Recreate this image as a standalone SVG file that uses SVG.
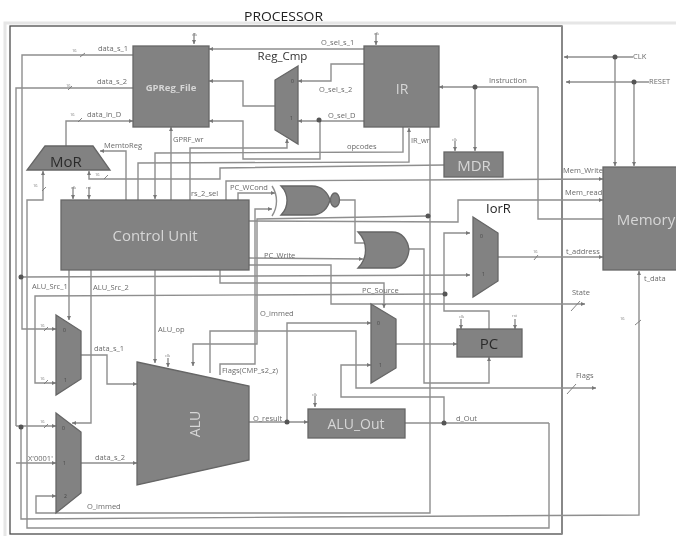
<svg xmlns="http://www.w3.org/2000/svg" width="676" height="536" viewBox="0 0 676 536">
<style>
text{font-family:"Open Sans","Liberation Sans",sans-serif}
.w{fill:none;stroke:#8e8e8e;stroke-width:1.4}
.a{marker-end:url(#ah)}
.t{fill:none;stroke:#777;stroke-width:.9}
.n{fill:#828282;stroke:#666;stroke-width:1.3}
.l{font-size:7.500px;fill:#6a6a6a}
.m{font-size:5px;fill:#444}
.s{font-size:4px;fill:#777}
.big{fill:#d6d6d6;text-anchor:middle}
.dk{fill:#2c2c2c;text-anchor:middle}
.d{fill:#555}
</style>
<defs>
<marker id="ah" markerWidth="5" markerHeight="5" refX="4" refY="2.500" orient="auto" markerUnits="userSpaceOnUse"><path d="M0,.5L4,2.500L0,4.500z" fill="#777"/></marker>
<filter id="b" x="0" y="0" width="676" height="536" filterUnits="userSpaceOnUse"><feGaussianBlur stdDeviation="0.55"/></filter>
</defs>
<rect width="676" height="536" fill="#fff"/>
<g filter="url(#b)">
<g id="frame">
<path d="M5,536V23H676" fill="none" stroke="#e6e6e6" stroke-width="3"/>
<rect x="10" y="26" width="552" height="508" fill="none" stroke="#4c4c4c" stroke-width="1.3"/>
<path d="M562,26V534" stroke="#888" stroke-width="2" fill="none"/>
<text x="244" y="21" font-size="13" fill="#222" textLength="79" lengthAdjust="spacingAndGlyphs">PROCESSOR</text>
</g>
<g id="connectors">
<path class="w a" d="M133,55H22V329H56"/>
<path class="w a" d="M21,277L470,275"/>
<path class="w" d="M133,88H16V426"/>
<path class="w a" d="M16,426H56"/>
<path class="w a" d="M21,427V519L304,517L639,515V271"/>
<path class="w a" d="M66,146V121H133"/>
<path class="w a" d="M549,423V528H27V200H43V171"/>
<path class="w a" d="M444,165L220,168V179H89V171"/>
<path class="w" d="M405,423H549"/>
<path class="w a" d="M444,423V397H341V365H371"/>
<path class="w a" d="M126,200V151H100"/>
<path class="w a" d="M171,200V127"/>
<path class="w a" d="M190,200V148H287V139"/>
<path class="w a" d="M403,127V152L155,153V199"/>
<path class="w a" d="M138,200V163L409,162V128"/>
<path class="w a" d="M364,49H209"/>
<path class="w a" d="M275,106H243V81H209"/>
<path class="w a" d="M320,120V159H243V121H209"/>
<path class="w a" d="M364,121H298"/>
<path class="w a" d="M364,64H331V81H298"/>
<path class="w a" d="M538,87H439"/>
<path class="w" d="M538,87V219H603"/>
<path class="w a" d="M475,87V151"/>
<path class="w a" d="M633,57H564"/>
<path class="w a" d="M615,57V166"/>
<path class="w a" d="M649,82H566"/>
<path class="w a" d="M634,82V166"/>
<path class="w a" d="M226,200V181L603,179"/>
<path class="w a" d="M238,200V193H275"/>
<path class="w a" d="M220,375V364H255V209H272"/>
<path class="w a" d="M428,216L257,219V344H193V366"/>
<path class="w a" d="M249,221L458,222V200H603"/>
<path class="w a" d="M430,127V513H36V496H56"/>
<path class="w a" d="M287,422V323H371"/>
<path class="w a" d="M210,373V331H356V388H596"/>
<path class="w a" d="M249,258L363,259"/>
<path class="w a" d="M249,265H331V304H585"/>
<path class="w a" d="M220,270V283H384V308"/>
<path class="w a" d="M445,294L35,296V383H56"/>
<path class="w a" d="M489,329V311H444V233H470"/>
<path class="w a" d="M69,270V320"/>
<path class="w a" d="M91,270V423H72"/>
<path class="w a" d="M155,270V363"/>
<path class="w a" d="M81,355H107V384H137"/>
<path class="w a" d="M81,463H137"/>
<path class="w a" d="M16,463H56"/>
<path class="w a" d="M249,422H308"/>
<path class="w a" d="M396,344H457"/>
<path class="w a" d="M409,249H424V383H489V357"/>
<path class="w" d="M340,200H355V243H364"/>
<path class="w a" d="M498,257H603"/>
<path class="w a" d="M194,33V44"/><path class="w a" d="M376,33V45"/><path class="w a" d="M455,141V151"/>
<path class="w a" d="M73,187V199"/><path class="w a" d="M89,187V199"/>
<path class="w a" d="M461,319V329"/><path class="w a" d="M515,319V329"/>
<path class="w a" d="M168,358V367"/><path class="w a" d="M315,396V407"/>
<path class="t" d="M80,57L85,53M68,90L72,86M78,122L82,118M104,179L108,175M42,191L46,187M44,331L48,327M44,384L48,380M44,428L48,424M534,260L538,255M571,311L580,301M567,394L576,384M635,325L641,320"/>
<g class="d"><circle cx="319" cy="120" r="2.500"/><circle cx="475" cy="87" r="2.500"/><circle cx="615" cy="57" r="2.500"/><circle cx="634" cy="82" r="2.500"/><circle cx="21" cy="277" r="2.500"/><circle cx="21" cy="427" r="2.500"/><circle cx="428" cy="216" r="2.500"/><circle cx="445" cy="294" r="2.500"/><circle cx="287" cy="422" r="2.500"/><circle cx="444" cy="423" r="2.500"/></g>
<g class="l">
<text x="98" y="51">data_s_1</text><text x="97" y="84">data_s_2</text><text x="87" y="117">data_in_D</text>
<text x="104" y="148">MemtoReg</text><text x="173" y="142">GPRF_wr</text><text x="191" y="196">rs_2_sel</text>
<text x="230" y="190">PC_WCond</text><text x="264" y="258">PC_Write</text><text x="32" y="289">ALU_Src_1</text><text x="93" y="290">ALU_Src_2</text>
<text x="362" y="293">PC_Source</text><text x="158" y="332">ALU_op</text><text x="260" y="316">O_immed</text>
<text x="222" y="373">Flags(CMP_s2_z)</text><text x="94" y="351">data_s_1</text><text x="95" y="460">data_s_2</text><text x="28" y="461">X'0001'</text>
<text x="87" y="509">O_immed</text><text x="253" y="421">O_result</text><text x="456" y="421">d_Out</text>
<text x="321" y="45">O_sel_s_1</text><text x="319" y="92">O_sel_s_2</text><text x="328" y="118">O_sel_D</text><text x="347" y="149">opcodes</text><text x="411" y="143">IR_wr</text>
<text x="489" y="83">Instruction</text><text x="563" y="173">Mem_Write</text><text x="565" y="195">Mem_read</text><text x="566" y="254">t_address</text>
<text x="644" y="281">t_data</text><text x="572" y="295">State</text><text x="576" y="378">Flags</text><text x="633" y="59">CLK</text><text x="649" y="84">RESET</text>
</g>
<g class="s">
<text x="192" y="36">clk</text><text x="374" y="35">clk</text><text x="452" y="141">clk</text><text x="71" y="189">clk</text><text x="86" y="189">rst</text><text x="459" y="318">clk</text><text x="512" y="317">rst</text><text x="165" y="357">clk</text><text x="312" y="396">clk</text>
<text x="72" y="52">16</text><text x="66" y="87">16</text><text x="70" y="116">16</text><text x="95" y="176">16</text><text x="33" y="187">16</text><text x="40" y="327">16</text><text x="40" y="380">16</text><text x="40" y="423">16</text><text x="533" y="253">16</text><text x="620" y="320">16</text>
</g>
</g>
<g id="gpreg"><rect class="n" x="133" y="46" width="76" height="81"/><text class="big" x="171" y="91" font-size="9.500" font-weight="bold">GPReg_File</text></g>
<g id="ir"><rect class="n" x="364" y="46" width="75" height="81"/><text class="big" x="402" y="94" font-size="14">IR</text></g>
<g id="regcmp"><path class="n" d="M298,66L275,80V130L298,144z"/><text class="m" x="291" y="83">0</text><text class="m" x="290" y="120">1</text><text x="282.500" y="60" font-size="11.500" fill="#333" text-anchor="middle">Reg_Cmp</text></g>
<g id="mdr"><rect class="n" x="444" y="152" width="59" height="25"/><text class="big" x="474" y="171" font-size="15">MDR</text></g>
<g id="memory"><rect class="n" x="603" y="167" width="75" height="103"/><text class="big" x="646" y="225" font-size="15">Memory</text></g>
<g id="mor"><path class="n" d="M45,146H93L110,170H27z"/><text class="dk" x="66" y="167" font-size="15">MoR</text></g>
<g id="control"><rect class="n" x="61" y="200" width="188" height="70"/><text class="big" x="155" y="241" font-size="15">Control Unit</text></g>
<g id="nor"><path class="w" d="M272,186C278,195 278,207 272,216"/><path class="n" d="M281,186H312C322,186 328,193 330,200C328,208 322,215 312,215H281C289,207 289,194 281,186z"/><ellipse class="n" cx="335" cy="200" rx="4.500" ry="7"/></g>
<g id="or"><path class="n" d="M358,232H392C402,232 408,240 409,250C408,260 402,268 392,268H358C368,258 368,242 358,232z"/></g>
<g id="iorr"><path class="n" d="M473,217L498,233V281L473,297z"/><text class="m" x="480" y="238">0</text><text class="m" x="482" y="276">1</text><text x="498.500" y="213" font-size="13" fill="#222" text-anchor="middle">IorR</text></g>
<g id="pcmux"><path class="n" d="M371,304L396,319V368L371,383z"/><text class="m" x="377" y="325">0</text><text class="m" x="379" y="367">1</text></g>
<g id="pc"><rect class="n" x="457" y="329" width="65" height="28"/><text class="dk" x="489" y="349" font-size="15">PC</text></g>
<g id="aluout"><rect class="n" x="308" y="409" width="97" height="29"/><text class="big" x="356" y="429" font-size="14">ALU_Out</text></g>
<g id="alu"><path class="n" d="M137,362L249,386V460L137,485z"/><text class="big" x="0" y="0" font-size="14" transform="translate(200,424) rotate(-90)">ALU</text></g>
<g id="mux1"><path class="n" d="M56,315L81,331V379L56,395z"/><text class="m" x="63" y="332">0</text><text class="m" x="64" y="382">1</text></g>
<g id="mux2"><path class="n" d="M56,413L81,432V493L56,513z"/><text class="m" x="62" y="430">0</text><text class="m" x="63" y="465">1</text><text class="m" x="64" y="498">2</text></g>
</g>
</svg>
